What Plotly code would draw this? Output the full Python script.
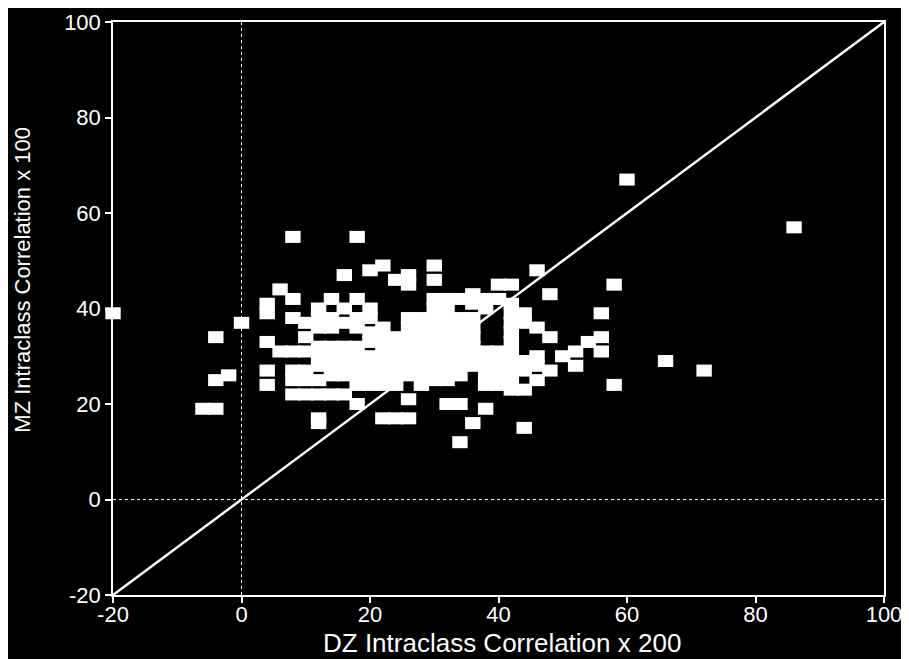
import plotly.graph_objects as go

# DZ (x200) value -> list of MZ (x100) values observed at that DZ value
dz_columns = [-20, -6, -4, -2, 0, 4, 6, 8, 10, 12, 14, 16, 18, 20, 22, 24, 26, 28, 30,
              32, 34, 36, 38, 40, 42, 44, 46, 48, 50, 52, 54, 56, 58, 60, 66, 72, 86]
mz_by_column = [
    [39],
    [19],
    [34, 25, 19],
    [26],
    [37],
    [41, 39, 33, 27, 24],
    [44, 31],
    [55, 42, 38, 31, 27, 25, 22],
    [37, 34, 31, 27, 25, 22],
    [40, 38, 36, 32, 30, 28, 25, 22, 17, 16],
    [42, 38, 36, 32, 30, 28, 26, 22],
    [47, 40, 37, 32, 30, 28, 26, 22],
    [55, 42, 38, 36, 32, 30, 28, 26, 24, 20],
    [48, 40, 38, 35, 33, 30, 28, 26, 24],
    [49, 36, 34, 32, 30, 28, 26, 24, 17],
    [46, 34, 32, 30, 28, 26, 24, 17],
    [47, 45, 38, 36, 34, 32, 30, 28, 26, 21, 17],
    [38, 36, 34, 32, 30, 28, 26, 24],
    [49, 46, 42, 40, 38, 36, 34, 32, 30, 28, 26, 25],
    [42, 40, 38, 36, 34, 32, 30, 28, 26, 25, 20],
    [42, 38, 36, 34, 32, 30, 28, 26, 20, 12],
    [43, 41, 38, 36, 34, 32, 30, 28, 16],
    [42, 40, 31, 29, 27, 25, 24, 19],
    [45, 42, 31, 29, 27, 25, 24],
    [45, 41, 39, 37, 35, 33, 31, 29, 27, 25, 23],
    [39, 37, 29, 27, 23, 15],
    [48, 36, 30, 28, 25],
    [43, 34, 27],
    [30],
    [31, 28],
    [33],
    [39, 34, 31],
    [45, 24],
    [67],
    [29],
    [27],
    [57],
]

axis_ticks = [-20, 0, 20, 40, 60, 80, 100]
axis_tick_labels = [str(v) for v in axis_ticks]
axis_range = [-20, 100]
identity_line = [-20, 100]
ref_zero = [0, 0]
x_title = "DZ Intraclass Correlation x 200"
y_title = "MZ Intraclass Correlation x 100"

dz_vals, mz_vals = [], []
for xv, ys in zip(dz_columns, mz_by_column):
    for yv in ys:
        dz_vals.append(xv)
        mz_vals.append(yv)

FONT = "Liberation Sans, Arial, Helvetica, sans-serif"

fig = go.Figure()

# dotted reference lines at zero
fig.add_trace(go.Scatter(x=ref_zero, y=axis_range, mode="lines",
                         line=dict(color="white", width=1, dash="dot"),
                         hoverinfo="skip", showlegend=False))
fig.add_trace(go.Scatter(x=axis_range, y=ref_zero, mode="lines",
                         line=dict(color="white", width=1, dash="dot"),
                         hoverinfo="skip", showlegend=False))
# identity line
fig.add_trace(go.Scatter(x=identity_line, y=identity_line, mode="lines",
                         line=dict(color="white", width=2.5),
                         hoverinfo="skip", showlegend=False))
# data points (rectangular markers)
fig.add_trace(go.Scatter(x=dz_vals, y=mz_vals, mode="markers",
                         marker=dict(symbol="line-ew", size=11, color="white",
                                     line=dict(color="white", width=12)),
                         showlegend=False, cliponaxis=False))

axis_common = dict(range=axis_range, tickvals=axis_ticks, ticktext=axis_tick_labels,
                   showgrid=False, zeroline=False, showline=True, linecolor="white",
                   linewidth=1.5, mirror=True, ticks="outside", ticklen=6,
                   tickcolor="white", tickwidth=1.5, automargin=False,
                   tickfont=dict(family=FONT, size=22, color="white"))

fig.update_layout(
    width=901, height=651,
    paper_bgcolor="black", plot_bgcolor="black",
    margin=dict(l=105, r=25, t=14, b=64),
    xaxis=dict(**axis_common, ticklabelstandoff=-7),
    yaxis=dict(**axis_common),
    annotations=[
        dict(text=x_title, xref="paper", yref="paper", x=0.505, y=-0.084,
             xanchor="center", yanchor="middle", showarrow=False,
             font=dict(family=FONT, size=26, color="white")),
        dict(text=y_title, xref="paper", yref="paper", x=-0.117, y=0.55,
             xanchor="center", yanchor="middle", showarrow=False, textangle=-90,
             font=dict(family=FONT, size=22, color="white")),
    ],
)

fig.write_html("out.html")
